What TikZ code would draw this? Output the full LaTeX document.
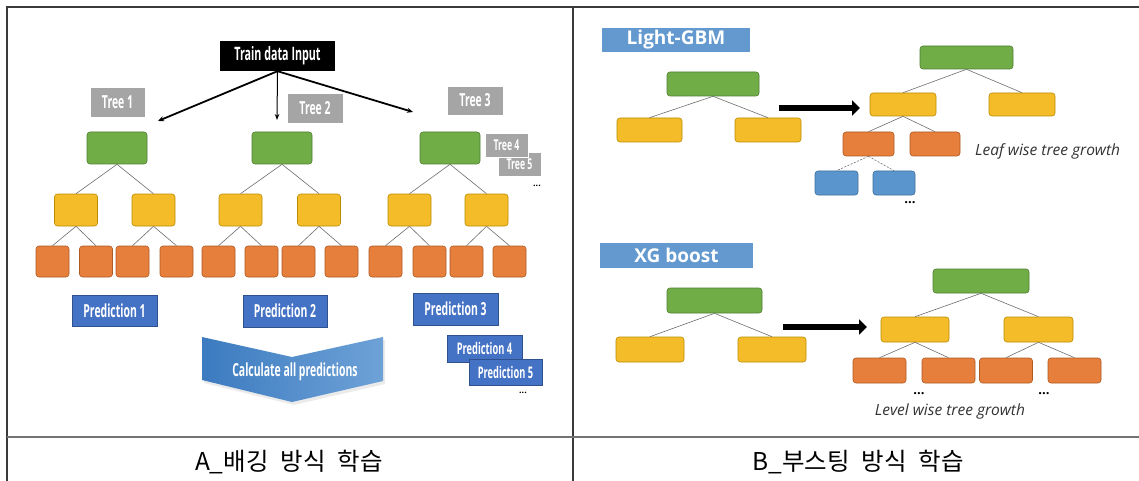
\documentclass[tikz,border=0pt]{standalone}
\usepackage{fontspec}
\setmainfont{Open Sans}
\newfontfamily\condf[FakeStretch=0.58]{Open Sans}
\newfontfamily\krfont{Noto Sans CJK KR}
\usetikzlibrary{arrows.meta}

\definecolor{gfill}{HTML}{70AD47}\definecolor{gline}{HTML}{507E32}
\definecolor{yfill}{HTML}{F5BC2A}\definecolor{yline}{HTML}{BC8C00}
\definecolor{ofill}{HTML}{E67E3C}\definecolor{oline}{HTML}{AE5A21}
\definecolor{bfill}{HTML}{5B95CD}\definecolor{bline}{HTML}{41719C}
\definecolor{pfill}{HTML}{4472C4}\definecolor{pline}{HTML}{2F528F}
\definecolor{tgray}{HTML}{A5A5A5}
\definecolor{labblue}{HTML}{6399CF}
\definecolor{linkgray}{HTML}{6E6E6E}
\definecolor{framec}{HTML}{3A3A3A}
\definecolor{chevL}{HTML}{3C7BC0}
\definecolor{chevR}{HTML}{6EA2D7}

\tikzset{
  rb/.style={draw, rounded corners=3pt, line width=0.6pt, inner sep=0pt},
  gbox/.style={rb, fill=gfill, draw=gline},
  ybox/.style={rb, fill=yfill, draw=yline},
  obox/.style={rb, fill=ofill, draw=oline},
  bbox/.style={rb, fill=bfill, draw=bline},
  sz/.style 2 args={minimum width=#1pt, minimum height=#2pt},
  link/.style={draw=linkgray, line width=0.6pt},
  dlink/.style={link, dash pattern=on 2pt off 1.5pt},
  inbox/.style={fill=black, text=white, inner sep=0pt,
    font=\condf\bfseries\fontsize{18.5}{18.5}\selectfont},
  treelab/.style={fill=tgray, draw=white, line width=0.6pt, text=white, inner sep=0pt,
    font=\condf\bfseries\fontsize{18}{18}\selectfont},
  treelabs/.style={treelab, font=\condf\bfseries\fontsize{15}{15}\selectfont},
  predlab/.style={fill=pfill, draw=pline, line width=0.6pt, text=white, inner sep=0pt,
    font=\condf\bfseries\fontsize{18}{18}\selectfont},
  predlabs/.style={predlab, font=\condf\bfseries\fontsize{16}{16}\selectfont},
  headlab/.style={fill=labblue, text=white, inner sep=0pt,
    font=\bfseries\fontsize{19}{19}\selectfont},
  dots/.style={inner sep=0pt, font=\bfseries\fontsize{9}{9}\selectfont},
  bigdots/.style={inner sep=0pt, font=\bfseries\fontsize{13}{13}\selectfont},
  note/.style={inner sep=0pt, text=black!80, font=\itshape\fontsize{15.5}{15.5}\selectfont},
  feed/.style={line width=1.8pt, -{Stealth[length=6pt,width=5pt]}},
  fat/.style={line width=6pt, -{Triangle[length=8pt,width=15pt]}},
  caption/.style={inner sep=0pt, font=\krfont\fontsize{24.5}{24.5}\selectfont},
}

\begin{document}
\begin{tikzpicture}[x=1pt,y=-1pt]
\useasboundingbox (0,0) rectangle (1139,481);
\fill[white] (0,0) rectangle (1139,481);

% table frame
\draw[framec, line width=1.3pt] (1139,7) -- (7,7) -- (7,481);
\draw[framec, line width=1.3pt] (573,7) -- (573,481);
\draw[black!55, line width=1.6pt] (7,437) -- (1139,437);

% ---------- bagging ----------
\node[inbox, sz={115}{30}] (input) at (277.5,56) {Train data Input};
\coordinate (a1) at (158,121);
\coordinate (a2) at (277,120);
\coordinate (a3) at (413,112);
\draw[feed] (input.south) -- (a1);
\draw[line width=1pt, -{Stealth[length=6pt,width=4.5pt]}] (input.south) -- (a2);
\draw[feed] (input.south) -- (a3);

\node[treelab, sz={55}{30}] (t1) at (117.5,102) {Tree 1};
\node[treelab, sz={56}{30}] (t2) at (315,108) {Tree 2};
\node[treelab, sz={56}{29}] (t3) at (475,100.5) {Tree 3};
\node[treelabs, sz={43}{24}] (t5) at (519.5,164) {Tree 5};
\node[treelabs, sz={43}{24}] (t4) at (506.5,145) {Tree 4};
\node[dots] (tdots) at (537,186) {...};

\foreach \x [count=\i] in {117,282,450}
  \node[gbox, sz={60}{32}] (g\i) at (\x,148) {};
\foreach \x [count=\i] in {76,153.5,240.5,319,409.5,486.5}
  \node[ybox, sz={43}{32}] (y\i) at (\x,210) {};
\foreach \x [count=\i] in {52.5,96,132.5,176.5,218.5,261.5,298.5,341.5,385.5,429.5,466.5,509.5}
  \node[obox, sz={33}{31}] (o\i) at (\x,261.5) {};
\foreach \i in {1,2,3}{
  \pgfmathtruncatemacro\ya{2*\i-1}\pgfmathtruncatemacro\yb{2*\i}
  \draw[link] (g\i.south) -- (y\ya.north);
  \draw[link] (g\i.south) -- (y\yb.north);
}
\foreach \i in {1,...,6}{
  \pgfmathtruncatemacro\oa{2*\i-1}\pgfmathtruncatemacro\ob{2*\i}
  \draw[link] (y\i.south) -- (o\oa.north);
  \draw[link] (y\i.south) -- (o\ob.north);
}

\node[predlab, sz={85}{31}] (p1) at (114.5,310.5) {Prediction 1};
\node[predlab, sz={84}{32}] (p2) at (285,311) {Prediction 2};
\node[predlab, sz={85}{32}] (p3) at (455.5,309) {Prediction 3};
\node[predlabs, sz={75}{27}] (p4) at (484.5,348.5) {Prediction 4};
\node[predlabs, sz={73}{26}] (p5) at (505.5,372) {Prediction 5};
\node[dots] (pdots) at (523,393) {...};

% combining step
\fill[black, opacity=0.08] (204,340) -- (294,360) -- (385,340) -- (385,384) -- (294,405) -- (204,383) -- cycle;
\shade[left color=chevL, right color=chevR] (202,337) -- (292,357) -- (383,337) -- (383,381) -- (292,402) -- (202,380) -- cycle;
\node[inner sep=0pt, text=white, font=\condf\bfseries\fontsize{18}{18}\selectfont] (calc) at (295,372) {Calculate all predictions};

\node[caption] (capA) at (289,462) {A\_배깅\hspace{12pt}방식\hspace{12pt}학습};

% ---------- boosting: Light-GBM ----------
\node[headlab, sz={148}{24}] (lgbm) at (676,40) {Light-GBM};
\node[gbox, sz={92}{24}] (lg0) at (713,84) {};
\node[ybox, sz={65}{24}] (ly1) at (649.5,130) {};
\node[ybox, sz={66}{24}] (ly2) at (768,130) {};
\draw[link] (lg0.south) -- (ly1.north);
\draw[link] (lg0.south) -- (ly2.north);
\coordinate (la) at (779,108);
\coordinate (lb) at (860,108);
\draw[fat] (la) -- (lb);

\node[gbox, sz={93}{23}] (lG) at (966.5,57.5) {};
\node[ybox, sz={66}{23}] (lY1) at (903,104.5) {};
\node[ybox, sz={66}{23}] (lY2) at (1022,104.5) {};
\node[obox, sz={51}{24}] (lO1) at (868.5,144) {};
\node[obox, sz={50}{24}] (lO2) at (935,144) {};
\node[bbox, sz={43}{24}] (lB1) at (836.5,183) {};
\node[bbox, sz={42}{24}] (lB2) at (894,183) {};
\draw[link] (lG.south) -- (lY1.north);
\draw[link] (lG.south) -- (lY2.north);
\draw[link] (lY1.south) -- (lO1.north);
\draw[link] (lY1.south) -- (lO2.north);
\draw[dlink] (lO1.south) -- (lB1.north);
\draw[dlink] (lO1.south) -- (lB2.north);
\node[bigdots] (ldots) at (910,203) {...};
\node[note, anchor=west] (leaf) at (975,151) {Leaf wise tree growth};

% ---------- boosting: XG boost ----------
\node[headlab, sz={153}{25}] (xgb) at (676.5,255.5) {XG boost};
\node[gbox, sz={95}{25}] (xg0) at (714.5,300.5) {};
\node[ybox, sz={68}{25}] (xy1) at (650,349.5) {};
\node[ybox, sz={68}{25}] (xy2) at (772,349.5) {};
\draw[link] (xg0.south) -- (xy1.north);
\draw[link] (xg0.south) -- (xy2.north);
\coordinate (xa) at (783,327);
\coordinate (xb) at (867,327);
\draw[fat] (xa) -- (xb);

\node[gbox, sz={96}{24}] (xG) at (981,281) {};
\node[ybox, sz={68}{25}] (xY1) at (915,329.5) {};
\node[ybox, sz={69}{25}] (xY2) at (1038.5,329.5) {};
\foreach \x [count=\i] in {879.5,948.5,1006,1074.5}
  \node[obox, sz={53}{25}] (xO\i) at (\x,370.5) {};
\draw[link] (xG.south) -- (xY1.north);
\draw[link] (xG.south) -- (xY2.north);
\draw[link] (xY1.south) -- (xO1.north);
\draw[link] (xY1.south) -- (xO2.north);
\draw[link] (xY2.south) -- (xO3.north);
\draw[link] (xY2.south) -- (xO4.north);
\node[bigdots] (xdots1) at (919,394) {...};
\node[bigdots] (xdots2) at (1044,394) {...};
\node[note] (level) at (950,411) {Level wise tree growth};

\node[caption] (capB) at (858,462) {B\_부스팅\hspace{12pt}방식\hspace{12pt}학습};
\end{tikzpicture}
\end{document}
